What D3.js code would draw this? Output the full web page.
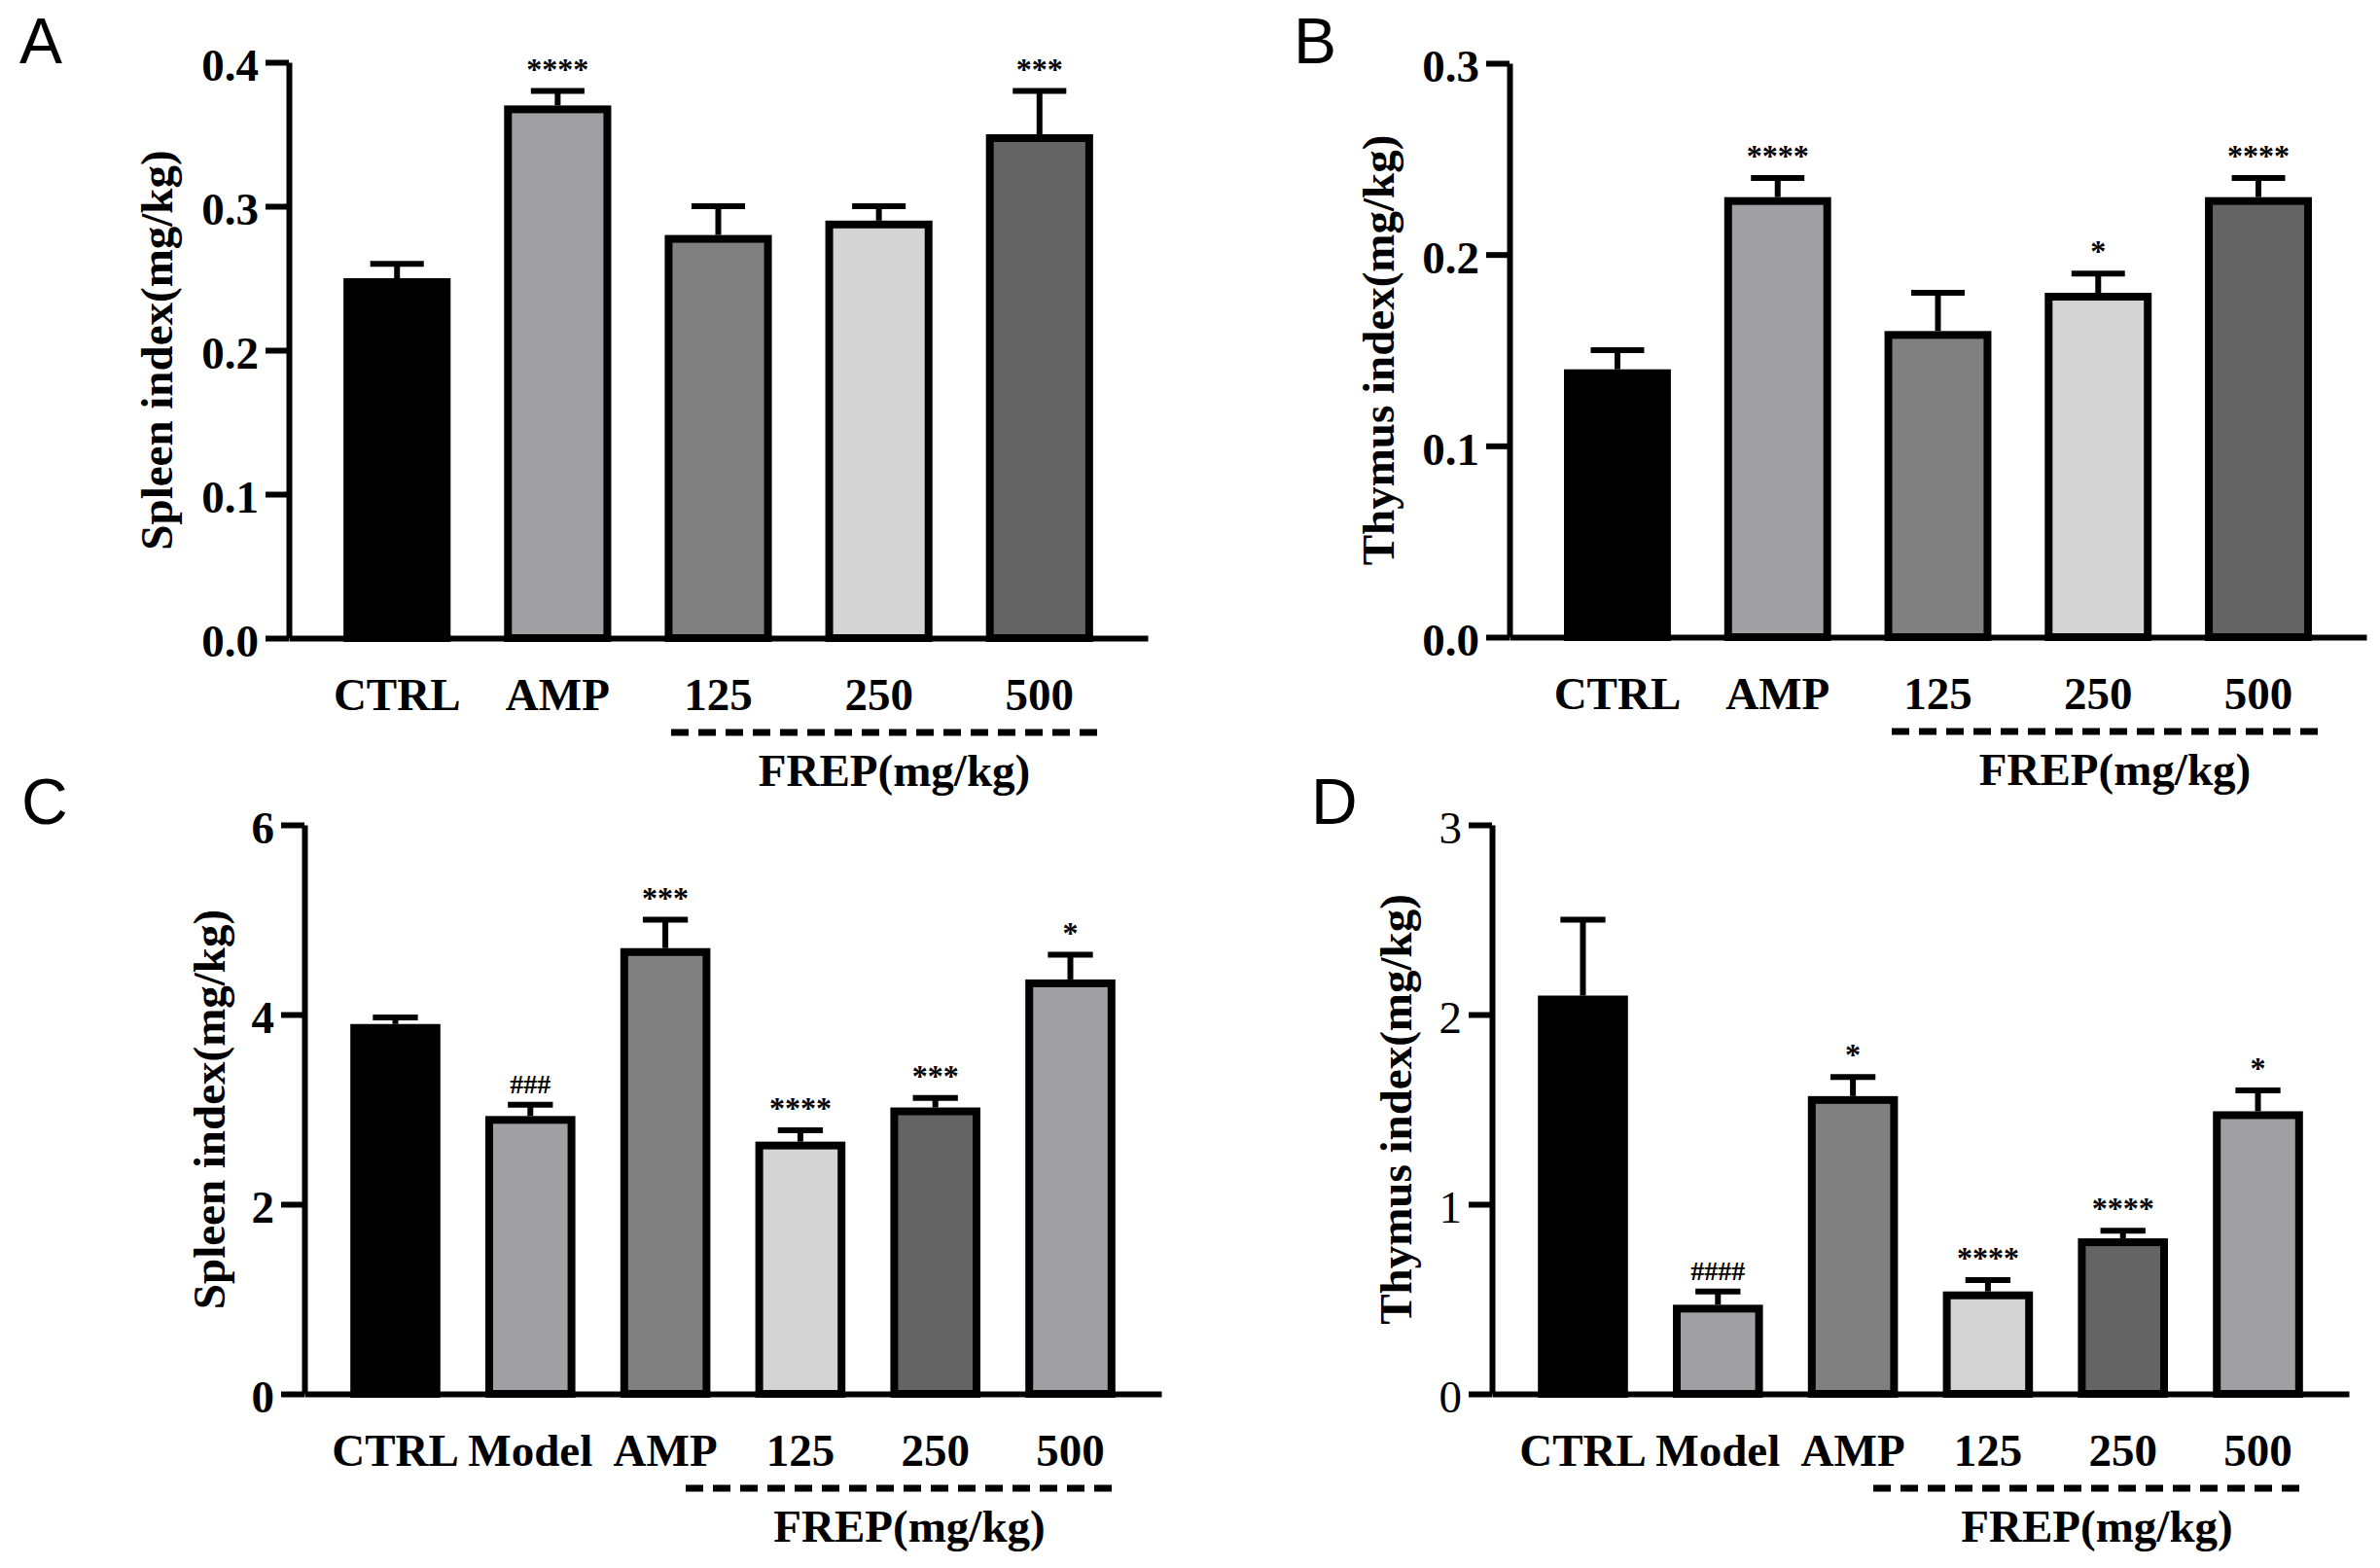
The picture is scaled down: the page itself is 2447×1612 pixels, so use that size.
<!DOCTYPE html>
<html>
<head>
<meta charset="utf-8">
<script src="https://cdn.jsdelivr.net/npm/d3@7"></script>
<style>
  body { margin: 0; background: #fff; }
  svg { display: block; }
</style>
</head>
<body>
<svg id="fig" width="2447" height="1612"></svg>
<script>
// ---- data ----
const groupsAB = ['CTRL', 'AMP', '125', '250', '500'];
const groupsCD = ['CTRL', 'Model', 'AMP', '125', '250', '500'];

const spleenAMean = [0.25, 0.37, 0.28, 0.29, 0.35];
const spleenASem  = [0.01, 0.01, 0.02, 0.01, 0.03];
const spleenASig  = ['', '****', '', '', '***'];

const thymusBMean = [0.14, 0.23, 0.16, 0.18, 0.23];
const thymusBSem  = [0.01, 0.01, 0.02, 0.01, 0.01];
const thymusBSig  = ['', '****', '', '*', '****'];

const spleenCMean = [3.9, 2.93, 4.7, 2.66, 3.02, 4.37];
const spleenCSem  = [0.07, 0.12, 0.3, 0.12, 0.1, 0.26];
const spleenCSig  = ['', '###', '***', '****', '***', '*'];

const thymusDMean = [2.1, 0.47, 1.57, 0.54, 0.82, 1.49];
const thymusDSem  = [0.4, 0.07, 0.1, 0.06, 0.04, 0.11];
const thymusDSig  = ['', '####', '*', '****', '****', '*'];

const fillsAB = ['#000000', '#a0a0a4', '#808080', '#d4d4d4', '#646464'];
const fillsCD = ['#000000', '#a0a0a4', '#808080', '#d4d4d4', '#646464', '#a0a0a4'];

const ticksA = [0, 0.1, 0.2, 0.3, 0.4];
const ticksB = [0, 0.1, 0.2, 0.3];
const ticksC = [0, 2, 4, 6];
const ticksD = [0, 1, 2, 3];

const serif = '"Liberation Serif", "Times New Roman", serif';
const svg = d3.select('#fig');

// layout for each panel (pixel positions only)
const panels = [
  { letter: 'A', lx: 20, ly: 65, x0: 297, x1: 1180, yTop: 64, yBot: 656,
    groups: groupsAB, mean: spleenAMean, sem: spleenASem, sig: spleenASig, fills: fillsAB,
    ticks: ticksA, fmt: d3.format('.1f'), title: 'Spleen index(mg/kg)', titleOff: 120,
    dash: [690, 1137], tickWeight: 'bold' },
  { letter: 'B', lx: 1330, ly: 65, x0: 1552, x1: 2433, yTop: 65, yBot: 655,
    groups: groupsAB, mean: thymusBMean, sem: thymusBSem, sig: thymusBSig, fills: fillsAB,
    ticks: ticksB, fmt: d3.format('.1f'), title: 'Thymus index(mg/kg)', titleOff: 119,
    dash: [1945, 2392], tickWeight: 'bold' },
  { letter: 'C', lx: 22, ly: 847, x0: 313, x1: 1194, yTop: 848, yBot: 1433,
    groups: groupsCD, mean: spleenCMean, sem: spleenCSem, sig: spleenCSig, fills: fillsCD,
    ticks: ticksC, fmt: d3.format('d'), title: 'Spleen index(mg/kg)', titleOff: 82,
    dash: [705, 1153], tickWeight: 'bold' },
  { letter: 'D', lx: 1348, ly: 847, x0: 1534, x1: 2415, yTop: 848, yBot: 1433,
    groups: groupsCD, mean: thymusDMean, sem: thymusDSem, sig: thymusDSig, fills: fillsCD,
    ticks: ticksD, fmt: d3.format('d'), title: 'Thymus index(mg/kg)', titleOff: 83,
    dash: [1926, 2374], tickWeight: 'normal' }
];

panels.forEach(p => {
  const g = svg.append('g');

  const x = d3.scaleBand()
    .domain(p.groups)
    .range([p.x0, p.x1])
    .paddingInner(0.333)
    .paddingOuter(0.34);
  const y = d3.scaleLinear()
    .domain([0, d3.max(p.ticks)])
    .range([p.yBot, p.yTop]);
  const bw = x.bandwidth();
  const rows = p.groups.map((k, i) => ({ k, m: p.mean[i], s: p.sem[i], sig: p.sig[i], fill: p.fills[i] }));

  // panel letter
  g.append('text')
    .attr('x', p.lx).attr('y', p.ly)
    .attr('font-family', '"Liberation Sans", Arial, sans-serif')
    .attr('font-size', 66)
    .text(p.letter);

  // bars, border drawn inside the bar outline
  g.selectAll('rect.bar').data(rows).join('rect')
    .attr('class', 'bar')
    .attr('x', d => x(d.k) + 4)
    .attr('y', d => y(d.m) + 4)
    .attr('width', bw - 8)
    .attr('height', d => y(0) - y(d.m) - 4)
    .attr('fill', d => d.fill)
    .attr('stroke', '#000')
    .attr('stroke-width', 8);

  // upper error bars
  const eb = g.selectAll('g.err').data(rows).join('g').attr('class', 'err')
    .attr('stroke', '#000').attr('stroke-width', 6);
  eb.append('line')
    .attr('x1', d => x(d.k) + bw / 2).attr('x2', d => x(d.k) + bw / 2)
    .attr('y1', d => y(d.m)).attr('y2', d => y(d.m + d.s));
  eb.append('line')
    .attr('x1', d => x(d.k) + bw / 4).attr('x2', d => x(d.k) + bw * 3 / 4)
    .attr('y1', d => y(d.m + d.s)).attr('y2', d => y(d.m + d.s));

  // significance marks
  g.selectAll('text.sig').data(rows.filter(d => d.sig)).join('text')
    .attr('class', 'sig')
    .attr('x', d => x(d.k) + bw / 2)
    .attr('y', d => y(d.m + d.s) - 12)
    .attr('text-anchor', 'middle')
    .attr('font-family', serif)
    .attr('font-weight', 'bold')
    .attr('font-size', d => d.sig[0] === '#' ? 28 : 32)
    .text(d => d.sig);

  // x axis
  const xa = g.append('g')
    .attr('transform', `translate(0,${y(0)})`)
    .call(d3.axisBottom(x).tickSize(0).tickSizeOuter(0).tickPadding(0));
  xa.select('.domain').attr('stroke', '#000').attr('stroke-width', 6);
  xa.selectAll('.tick text')
    .attr('y', 74).attr('dy', 0)
    .attr('font-family', serif)
    .attr('font-weight', 'bold')
    .attr('font-size', 47)
    .attr('fill', '#000');

  // y axis
  const ya = g.append('g')
    .attr('transform', `translate(${p.x0},0)`)
    .call(d3.axisLeft(y).tickValues(p.ticks).tickFormat(p.fmt).tickSize(24).tickSizeOuter(0).tickPadding(7));
  ya.select('.domain').attr('stroke', '#000').attr('stroke-width', 6);
  ya.selectAll('.tick line').attr('stroke', '#000').attr('stroke-width', 6);
  ya.selectAll('.tick text')
    .attr('dy', '0.4em')
    .attr('font-family', serif)
    .attr('font-weight', p.tickWeight)
    .attr('font-size', 47)
    .attr('fill', '#000');

  // y title
  g.append('text')
    .attr('transform', `translate(${p.x0 - p.titleOff},${(p.yTop + p.yBot) / 2}) rotate(-90)`)
    .attr('text-anchor', 'middle')
    .attr('font-family', serif)
    .attr('font-weight', 'bold')
    .attr('font-size', 47)
    .text(p.title);

  // dose group bracket
  g.append('line')
    .attr('x1', p.dash[0]).attr('x2', p.dash[1])
    .attr('y1', y(0) + 97).attr('y2', y(0) + 97)
    .attr('stroke', '#000')
    .attr('stroke-width', 7)
    .attr('stroke-dasharray', '18 10');
  g.append('text')
    .attr('x', (p.dash[0] + p.dash[1]) / 2 + 6)
    .attr('y', y(0) + 152)
    .attr('text-anchor', 'middle')
    .attr('font-family', serif)
    .attr('font-weight', 'bold')
    .attr('font-size', 47)
    .text('FREP(mg/kg)');
});
</script>
</body>
</html>
